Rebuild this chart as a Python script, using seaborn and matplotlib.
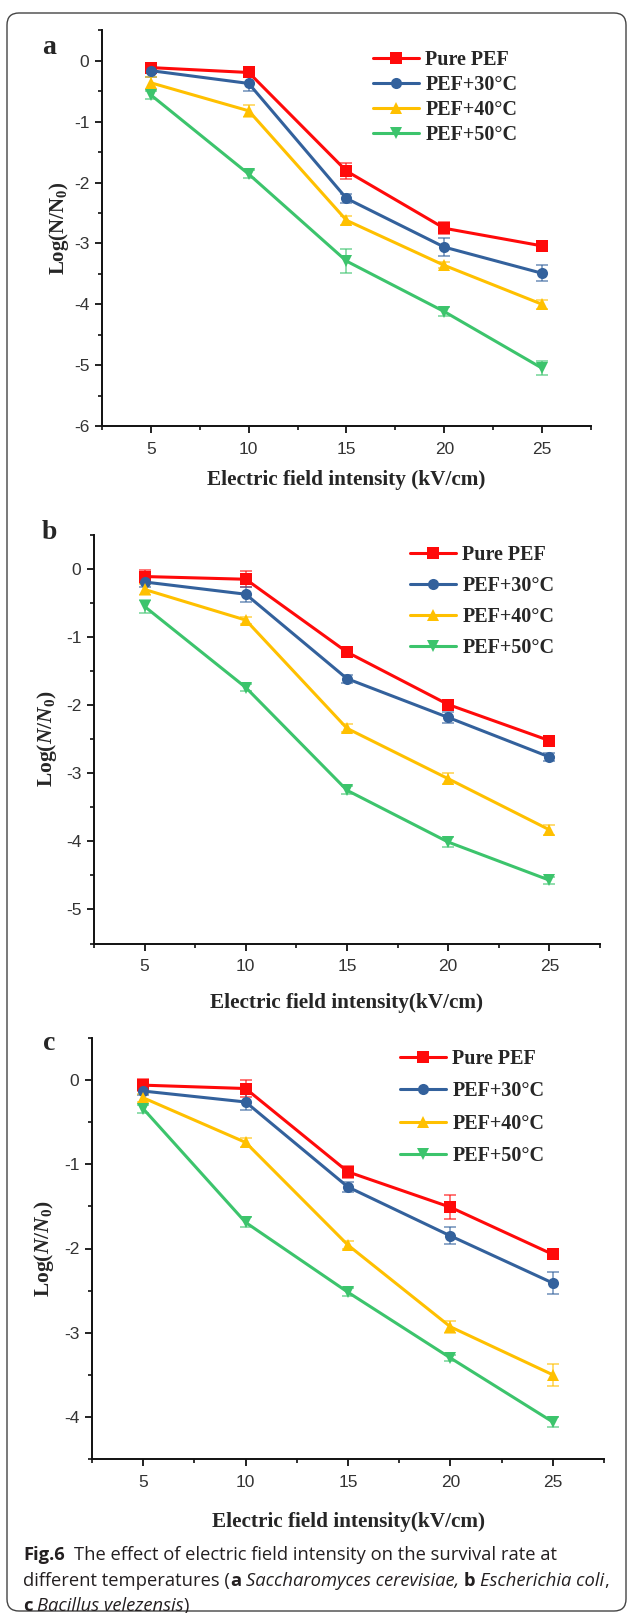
import numpy as np
import pandas as pd
import matplotlib
matplotlib.use('Agg')
import matplotlib.pyplot as plt
import seaborn as sns
from matplotlib.patches import FancyBboxPatch
from matplotlib.ticker import MultipleLocator

# data
field = [5, 10, 15, 20, 25]
groups = ['Pure PEF', 'PEF+30°C', 'PEF+40°C', 'PEF+50°C']

# a  Saccharomyces cerevisiae
a_pure = [-0.11, -0.19, -1.81, -2.75, -3.04]
a_30 = [-0.16, -0.37, -2.26, -3.06, -3.49]
a_40 = [-0.36, -0.82, -2.62, -3.36, -4.00]
a_50 = [-0.56, -1.86, -3.29, -4.12, -5.05]
a_pure_err = [0.07, 0.08, 0.13, 0.10, 0.05]
a_30_err = [0.10, 0.12, 0.08, 0.15, 0.13]
a_40_err = [0.10, 0.10, 0.07, 0.05, 0.07]
a_50_err = [0.07, 0.07, 0.20, 0.08, 0.12]

# b  Escherichia coli
b_pure = [-0.11, -0.15, -1.22, -1.99, -2.52]
b_30 = [-0.19, -0.37, -1.61, -2.18, -2.76]
b_40 = [-0.30, -0.75, -2.34, -3.08, -3.83]
b_50 = [-0.55, -1.74, -3.25, -4.01, -4.57]
b_pure_err = [0.10, 0.12, 0.06, 0.06, 0.05]
b_30_err = [0.08, 0.11, 0.06, 0.08, 0.06]
b_40_err = [0.08, 0.05, 0.06, 0.08, 0.07]
b_50_err = [0.10, 0.05, 0.06, 0.07, 0.05]

# c  Bacillus velezensis
c_pure = [-0.06, -0.10, -1.09, -1.51, -2.07]
c_30 = [-0.13, -0.26, -1.27, -1.85, -2.41]
c_40 = [-0.21, -0.74, -1.96, -2.93, -3.50]
c_50 = [-0.34, -1.69, -2.52, -3.30, -4.06]
c_pure_err = [0.07, 0.10, 0.07, 0.14, 0.05]
c_30_err = [0.05, 0.10, 0.06, 0.10, 0.13]
c_40_err = [0.05, 0.05, 0.05, 0.07, 0.13]
c_50_err = [0.05, 0.06, 0.05, 0.04, 0.06]

colors = ['#ff0a0a', '#33619c', '#ffc000', '#3cc46c']
markers = {'Pure PEF': 's', 'PEF+30°C': 'o', 'PEF+40°C': '^', 'PEF+50°C': 'v'}

sns.set_style('ticks')
plt.rcParams['font.family'] = ['Liberation Serif', 'DejaVu Serif']
plt.rcParams['font.weight'] = 'bold'
plt.rcParams['mathtext.fontset'] = 'custom'
plt.rcParams['mathtext.rm'] = 'Liberation Serif:bold'
plt.rcParams['mathtext.it'] = 'Liberation Serif:italic:bold'
plt.rcParams['mathtext.bf'] = 'Liberation Serif:bold'

W, H = 627, 1613
fig = plt.figure(figsize=(W / 100, H / 100), dpi=100)


def px_axes(left, right, top, bottom):
    ax = fig.add_axes([left / W, 1 - bottom / H, (right - left) / W, (bottom - top) / H])
    ax.patch.set_alpha(0)
    return ax


def make_df(series):
    rows = []
    for g, vals in zip(groups, series):
        for x, v in zip(field, vals):
            rows.append({'field': x, 'logr': v, 'group': g})
    return pd.DataFrame(rows)


def panel(ax, series, errs, ymin, yticks, xlabel, ylabel, ylab_size, xlab_y, ylab_x,
          leg_anchor, leg_space):
    df = make_df(series)
    sns.lineplot(data=df, x='field', y='logr', hue='group', style='group',
                 markers=markers, dashes=False, palette=colors, ax=ax,
                 linewidth=2.2, markersize=8, markeredgewidth=0)
    for vals, err, col in zip(series, errs, colors):
        ax.errorbar(field, vals, yerr=err, fmt='none', ecolor=col, alpha=0.6,
                    elinewidth=1.3, capsize=4, capthick=1.3, zorder=1)
    ax.set_xlim(2.5, 27.5)
    ax.set_ylim(ymin, 0.5)
    ax.set_xticks(field)
    ax.set_yticks(yticks)
    ax.set_yticklabels([str(int(t)) for t in yticks])
    ax.xaxis.set_minor_locator(MultipleLocator(2.5))
    ax.yaxis.set_minor_locator(MultipleLocator(0.5))
    sns.despine(ax=ax)
    for s in ['left', 'bottom']:
        ax.spines[s].set_linewidth(1.4)
        ax.spines[s].set_color('#111111')
    ax.tick_params(which='major', direction='out', length=5, width=1.3,
                   color='#111111', labelsize=12.5, labelcolor='#333333')
    ax.tick_params(axis='x', which='major', pad=6.5)
    ax.tick_params(axis='y', which='major', pad=4)
    ax.tick_params(which='minor', direction='out', length=3, width=1.2, color='#111111')
    for lab in ax.get_xticklabels() + ax.get_yticklabels():
        lab.set_family('Liberation Sans')
        lab.set_weight('normal')
    ax.set_xlabel(xlabel, fontsize=15.3, fontweight='bold')
    ax.set_ylabel(ylabel, fontsize=ylab_size, fontweight='bold')
    ax.xaxis.set_label_coords(0.5, xlab_y)
    ax.yaxis.set_label_coords(ylab_x, 0.5)
    old = ax.get_legend()
    handles = old.legend_handles
    labels = [t.get_text() for t in old.get_texts()]
    old.remove()
    ax.legend(handles, labels, loc='upper left', bbox_to_anchor=leg_anchor, frameon=False,
              prop={'family': 'Liberation Serif', 'weight': 'bold', 'size': 14.5},
              handlelength=2.3, handletextpad=0.3, labelspacing=leg_space,
              borderpad=0, borderaxespad=0)


ax_a = px_axes(102, 591, 30.5, 426)
panel(ax_a, [a_pure, a_30, a_40, a_50], [a_pure_err, a_30_err, a_40_err, a_50_err],
      -6, [-6, -5, -4, -3, -2, -1, 0], 'Electric field intensity (kV/cm)',
      r'Log(N/N$_0$)', 15, -0.111, -0.064, (0.554, 0.950), 0.25)

ax_b = px_axes(94, 600, 535, 943.5)
panel(ax_b, [b_pure, b_30, b_40, b_50], [b_pure_err, b_30_err, b_40_err, b_50_err],
      -5.5, [-5, -4, -3, -2, -1, 0], 'Electric field intensity(kV/cm)',
      r'Log($\mathit{N}$/$\mathit{N}_0$)', 15.5, -0.121, -0.069, (0.6245, 0.975), 0.55)

ax_c = px_axes(92, 604, 1038, 1459)
panel(ax_c, [c_pure, c_30, c_40, c_50], [c_pure_err, c_30_err, c_40_err, c_50_err],
      -4.5, [-4, -3, -2, -1, 0], 'Electric field intensity(kV/cm)',
      r'Log($\mathit{N}$/$\mathit{N}_0$)', 15.5, -0.126, -0.070, (0.6016, 0.9735), 0.61)

# panel letters
for lab, (x, y) in zip('abc', [(49, 47), (49, 533), (49, 1043)]):
    fig.text(x / W, 1 - y / H, lab, fontsize=20, fontweight='bold', ha='center', va='center')

# rounded frame
frame = FancyBboxPatch((0.07, 0.02), 6.19, 15.98, boxstyle='round,pad=0,rounding_size=0.12',
                       transform=fig.dpi_scale_trans, fill=False, ec='#444444', lw=1.0)
fig.patches.append(frame)

# caption with mixed styles
renderer = fig.canvas.get_renderer()
cap_kw = dict(fontsize=13.2, family='Open Sans', color='#231f20', va='center')


def width_of(s, **kw):
    t = fig.text(0, 0, s, **cap_kw, **kw)
    w = t.get_window_extent(renderer).width
    t.remove()
    return w


space = width_of('x x') - width_of('xx')


def caption_line(y, runs):
    x = 23
    for txt, weight, style, gap in runs:
        t = fig.text(x / W, 1 - y / H, txt, fontweight=weight, style=style, **cap_kw)
        x += t.get_window_extent(renderer).width + gap * space


caption_line(1555, [('Fig.6', 'bold', 'normal', 2),
                    ('The effect of electric field intensity on the survival rate at', 'normal', 'normal', 0)])
caption_line(1581, [('different temperatures (', 'normal', 'normal', 0),
                    ('a', 'bold', 'normal', 1),
                    ('Saccharomyces cerevisiae,', 'normal', 'italic', 1),
                    ('b', 'bold', 'normal', 1),
                    ('Escherichia coli', 'normal', 'italic', 0),
                    (',', 'normal', 'normal', 0)])
caption_line(1606, [('c', 'bold', 'normal', 1),
                    ('Bacillus velezensis', 'normal', 'italic', 0),
                    (')', 'normal', 'normal', 0)])

fig.savefig('out.png', dpi=100)
